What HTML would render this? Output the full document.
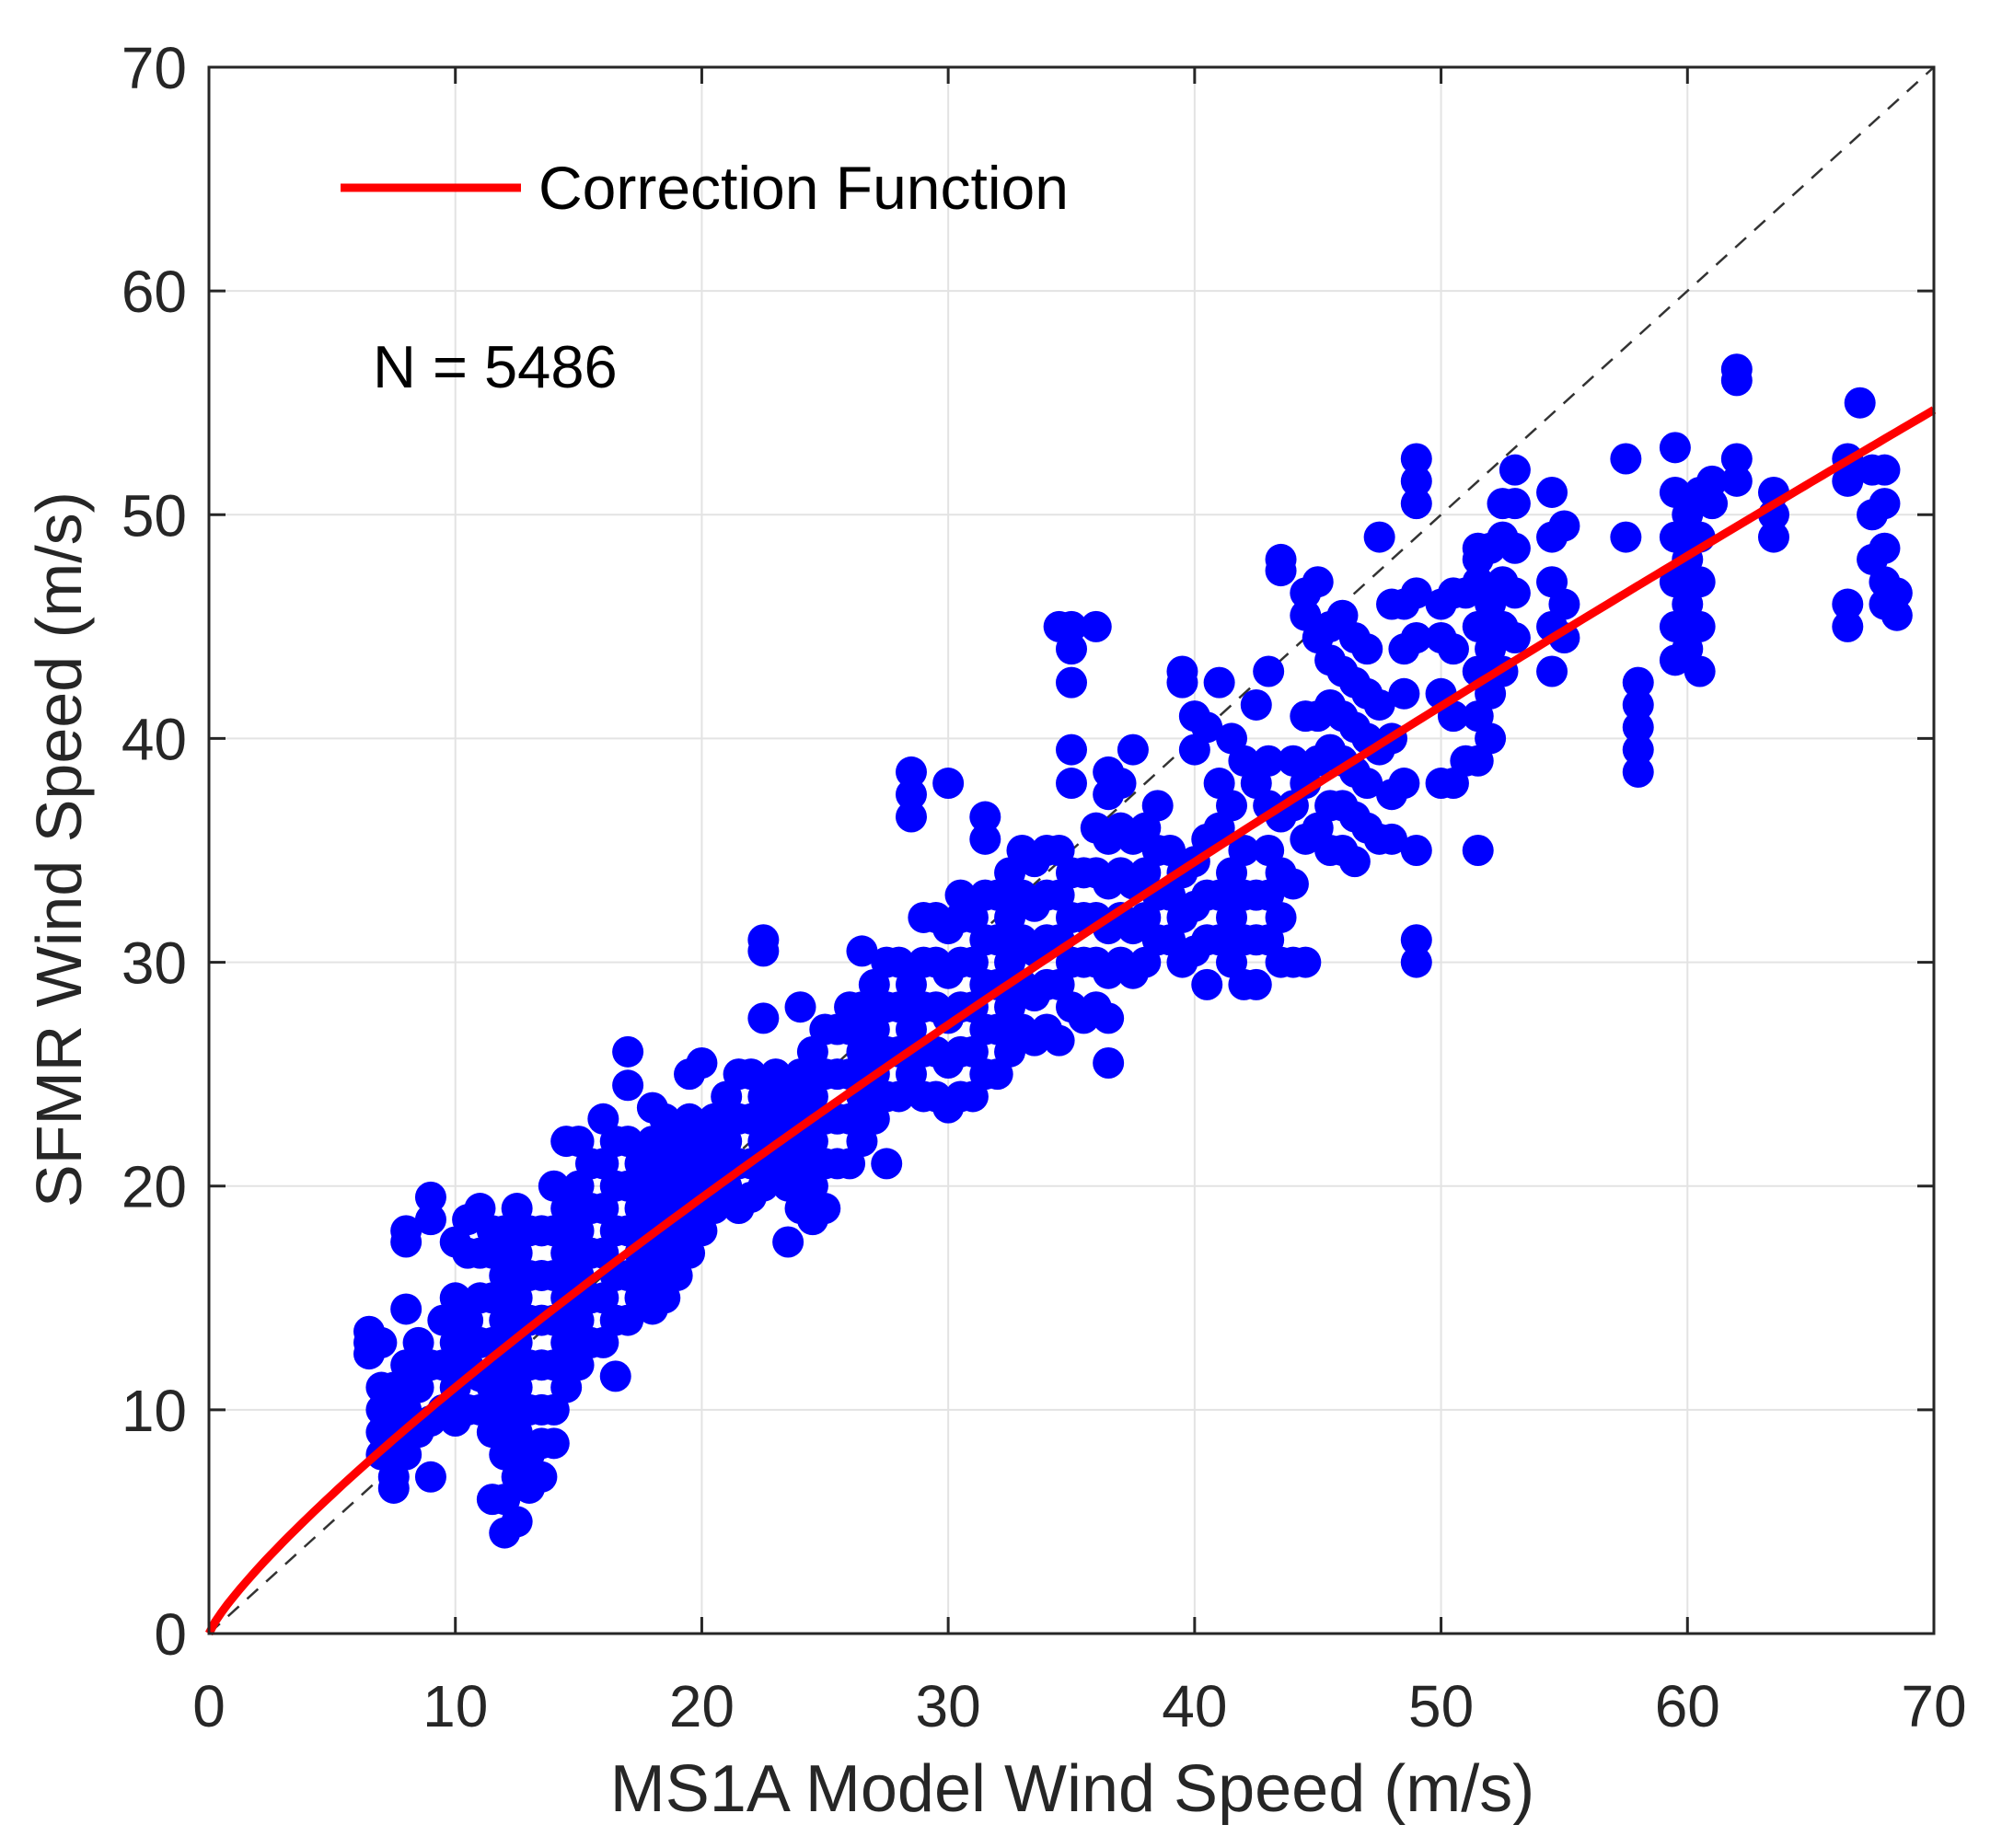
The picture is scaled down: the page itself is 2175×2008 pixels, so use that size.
<!DOCTYPE html>
<html><head><meta charset="utf-8"><style>
html,body{margin:0;padding:0;background:#fff;}
svg{display:block;font-family:"Liberation Sans",Arial,sans-serif;}
</style></head><body>
<svg id="chart" width="2175" height="2008" viewBox="0 0 2175 2008" xmlns="http://www.w3.org/2000/svg">
<g id="grid"></g>
<g id="diag"></g>
<g id="pts"></g>
<g id="fit"></g>
<g id="axes"></g>
<g>
<line x1="370" y1="204" x2="566" y2="204" stroke="#ff0000" stroke-width="9"/>
<text x="585" y="227" font-size="66" fill="#000">Correction Function</text>
</g>
<text x="405" y="421" font-size="65" fill="#000">N = 5486</text>
<text x="1165" y="1968" font-size="72" fill="#262626" text-anchor="middle">MS1A Model Wind Speed (m/s)</text>
<text x="0" y="0" font-size="70" fill="#262626" text-anchor="middle" transform="translate(88,923) rotate(-90)">SFMR Wind Speed (m/s)</text>
</svg>
<script>
const xTicks=[0,10,20,30,40,50,60,70];
const yTicks=[0,10,20,30,40,50,60,70];
const columnX=[6.5,7,7.5,8,8.5,9,9.5,10,10.5,11,11.5,12,12.5,13,13.5,14,14.5,15,15.5,16,16.5,17,17.5,18,18.5,19,19.5,20,20.5,21,21.5,22,22.5,23,23.5,24,24.5,25,25.5,26,26.5,27,27.5,28,28.5,29,29.5,30,30.5,31,31.5,32,32.5,33,33.5,34,34.5,35,35.5,36,36.5,37,37.5,38,38.5,39,39.5,40,40.5,41,41.5,42,42.5,43,43.5,44,44.5,45,45.5,46,46.5,47,47.5,48,48.5,49,50,50.5,51,51.5,52,52.5,53,54.5,55,57.5,58,59.5,60,60.5,61,62,63.5,66.5,67,67.5,68,68.5];
const columnY=[
[13.5,13,12.5],[9,10,11,8,13],[7,6.5,9,11],[8,10,12,14.5,17.5,18],[9,11,13],[7,9.5,12,19.5,18.5],[10,12,14],[9.5,11,13,15,17.5],[10,12,14,17,18.5],[10,11.5,13,15,17,19],
[6,9,11,13,15,17,18],[4.5,6,8,10,12,14,16,18],[5,7,9,11,13,15,17,19],[6.5,8,10,12,14,16,18],[7,8.5,10,12,14,16,18],[8.5,10,12,14,16,18,20],[11,13,15,17,19,22],[12,14,16,18,20,22],[13,15,17,19,21],[13,15,17,19,21,23],
[11.5,14,16,18,20,22],[14,16,18,20,22,24.5,26],[15,17,19,21],[14.5,16,18,20,22,23.5],[15,17,19,21,23],[16,18,20,22],[17,19,21,23,25],[18,20,22,25.5],[19,21,23],[20,22,24],
[19,21,23,25],[19.5,21,23,25],[20,22,24,27.5,30.5,31],[21,23,25],[17.5,20,22,24],[19,21,23,25,28],[18.5,20,22,24,26],[19,21,23,25,27],[21,23,25,27],[21,23,25,27,28],
[22,24,26,28,30.5],[23,25,27,29],[21,24,26,28,30],[24,26,28,30],[25,27,29,36.5,37.5,38.5],[24,26,28,30,32],[24,26,28,30,32],[23.5,25.5,27.5,29.5,31.5,38],[24,26,28,30,32,33],[24,26,28,30,32],
[25,27,29,31,33,35.5,36.5],[25,27,29,31,33],[26,28,30,32,34],[27,29,31,33,35],[26.5,28.5,30.5,32.5,34.5],[27,29,31,33,35],[26.5,29,31,33,35,45],[28,30,32,34,38,39.5,42.5,44,45],[27.5,30,32,34],[28,30,32,34,36,45],
[25.5,27.5,29.5,31.5,33.5,35.5,37.5,38.5],[30,32,34,36,38],[29.5,31.5,33.5,35.5,39.5],[30,32,34,36],[31,33,35,37],[31,33,35],[30,32,34,42.5,43],[30.5,32.5,34.5,39.5,41],[29,31,33,35.5,40.5],[31,33,36,38,42.5],
[30,32,34,37,40],[29,31,33,35,39],[29,31,33,38,41.5],[31,33,35,37,39,43],[30,32,34,36.5,47.5,48],[30,33.5,37,39],[30,35.5,38,41,46.5,45.5],[36,39,41,44.5,47],[35,37,39.5,41.5,43.5,45],[35,37,39,41,43,45.5],
[34.5,36.5,38.5,40.5,42.5,44.5],[36,38,40,42,44],[35.5,39.5,41.5,49],[35.5,37.5,40,46],[38,42,44,46],[30,31,50.5,51.5,52.5,44.5,46.5,35],[38,42,44.5,46],[38,41,44,46.5],[39,46.5],[35,39,41,43,45,47,48,48.5],
[40,42,44,46,48.5],[43,45,47,49,50.5],[44.5,46.5,48.5,50.5,52],[43,45,47,49,51],[44.5,46,49.5],[52.5,49],[38.5,39.5,40.5,41.5,42.5],[43.5,45,47,49,51,53],[44,46,48,50],[43,45,47,49,51],
[50.5,51.5],[56.5,56,52.5,51.5],[49,50,51],[52.5,51.5,45,46],[55],[48,50,52],[46,47,48.5,50.5,52],[45.5,46.5]];
const fitA=1.65, fitB=0.824;

const NS='http://www.w3.org/2000/svg';
const L=227,R=2101,T=73,B=1775;
const sx=v=>L+(v-0)/70*(R-L);
const sy=v=>B-(v-0)/70*(B-T);
function mk(tag,attrs,parent){const e=document.createElementNS(NS,tag);for(const k in attrs)e.setAttribute(k,attrs[k]);parent.appendChild(e);return e;}
const grid=document.getElementById('grid'),axes=document.getElementById('axes');
xTicks.forEach(t=>{
  const g=mk('line',{x1:sx(t),x2:sx(t),y1:T,y2:B,stroke:'#e3e3e3','stroke-width':2},grid);
  
  
  const k=mk('line',{x1:sx(t),x2:sx(t),y1:B,y2:B-18,stroke:'#262626','stroke-width':3},axes);
  
  
  const k2=mk('line',{x1:sx(t),x2:sx(t),y1:T,y2:T+18,stroke:'#262626','stroke-width':3},axes);
  
  
  const lb=mk('text',{x:sx(t),y:B+101,'font-size':64,fill:'#262626','text-anchor':'middle'},axes);
  lb.textContent=t;
  
  
});
yTicks.forEach(t=>{
  const g=mk('line',{x1:L,x2:R,y1:sy(t),y2:sy(t),stroke:'#e3e3e3','stroke-width':2},grid);
  
  
  const k=mk('line',{x1:L,x2:L+18,y1:sy(t),y2:sy(t),stroke:'#262626','stroke-width':3},axes);
  
  
  const k2=mk('line',{x1:R,x2:R-18,y1:sy(t),y2:sy(t),stroke:'#262626','stroke-width':3},axes);
  
  
  const lb=mk('text',{x:L-24,y:sy(t)+23,'font-size':64,fill:'#262626','text-anchor':'end'},axes);
  lb.textContent=t;
  
  
});
const box=mk('rect',{x:L,y:T,width:R-L,height:B-T,fill:'none',stroke:'#262626','stroke-width':3},axes);


const d=mk('line',{x1:sx(0),y1:sy(0),x2:sx(70),y2:sy(70),stroke:'#333','stroke-width':2.5,'stroke-dasharray':'16 12'},document.getElementById('diag'));


const pts=document.getElementById('pts');
columnX.forEach((x,i)=>{(columnY[i]||[]).forEach(y=>{
  const c=mk('circle',{cx:sx(x),cy:sy(y),r:17,fill:'#0000ff'},pts);
  
  
});});
let p='';
for(let i=0;i<=280;i++){const x=i*0.25;const y=fitA*Math.pow(x,fitB);p+=(i?'L':'M')+sx(x).toFixed(1)+','+sy(y).toFixed(1);}
const f=mk('path',{d:p,fill:'none',stroke:'#ff0000','stroke-width':9},document.getElementById('fit'));


</script>
</body></html>
